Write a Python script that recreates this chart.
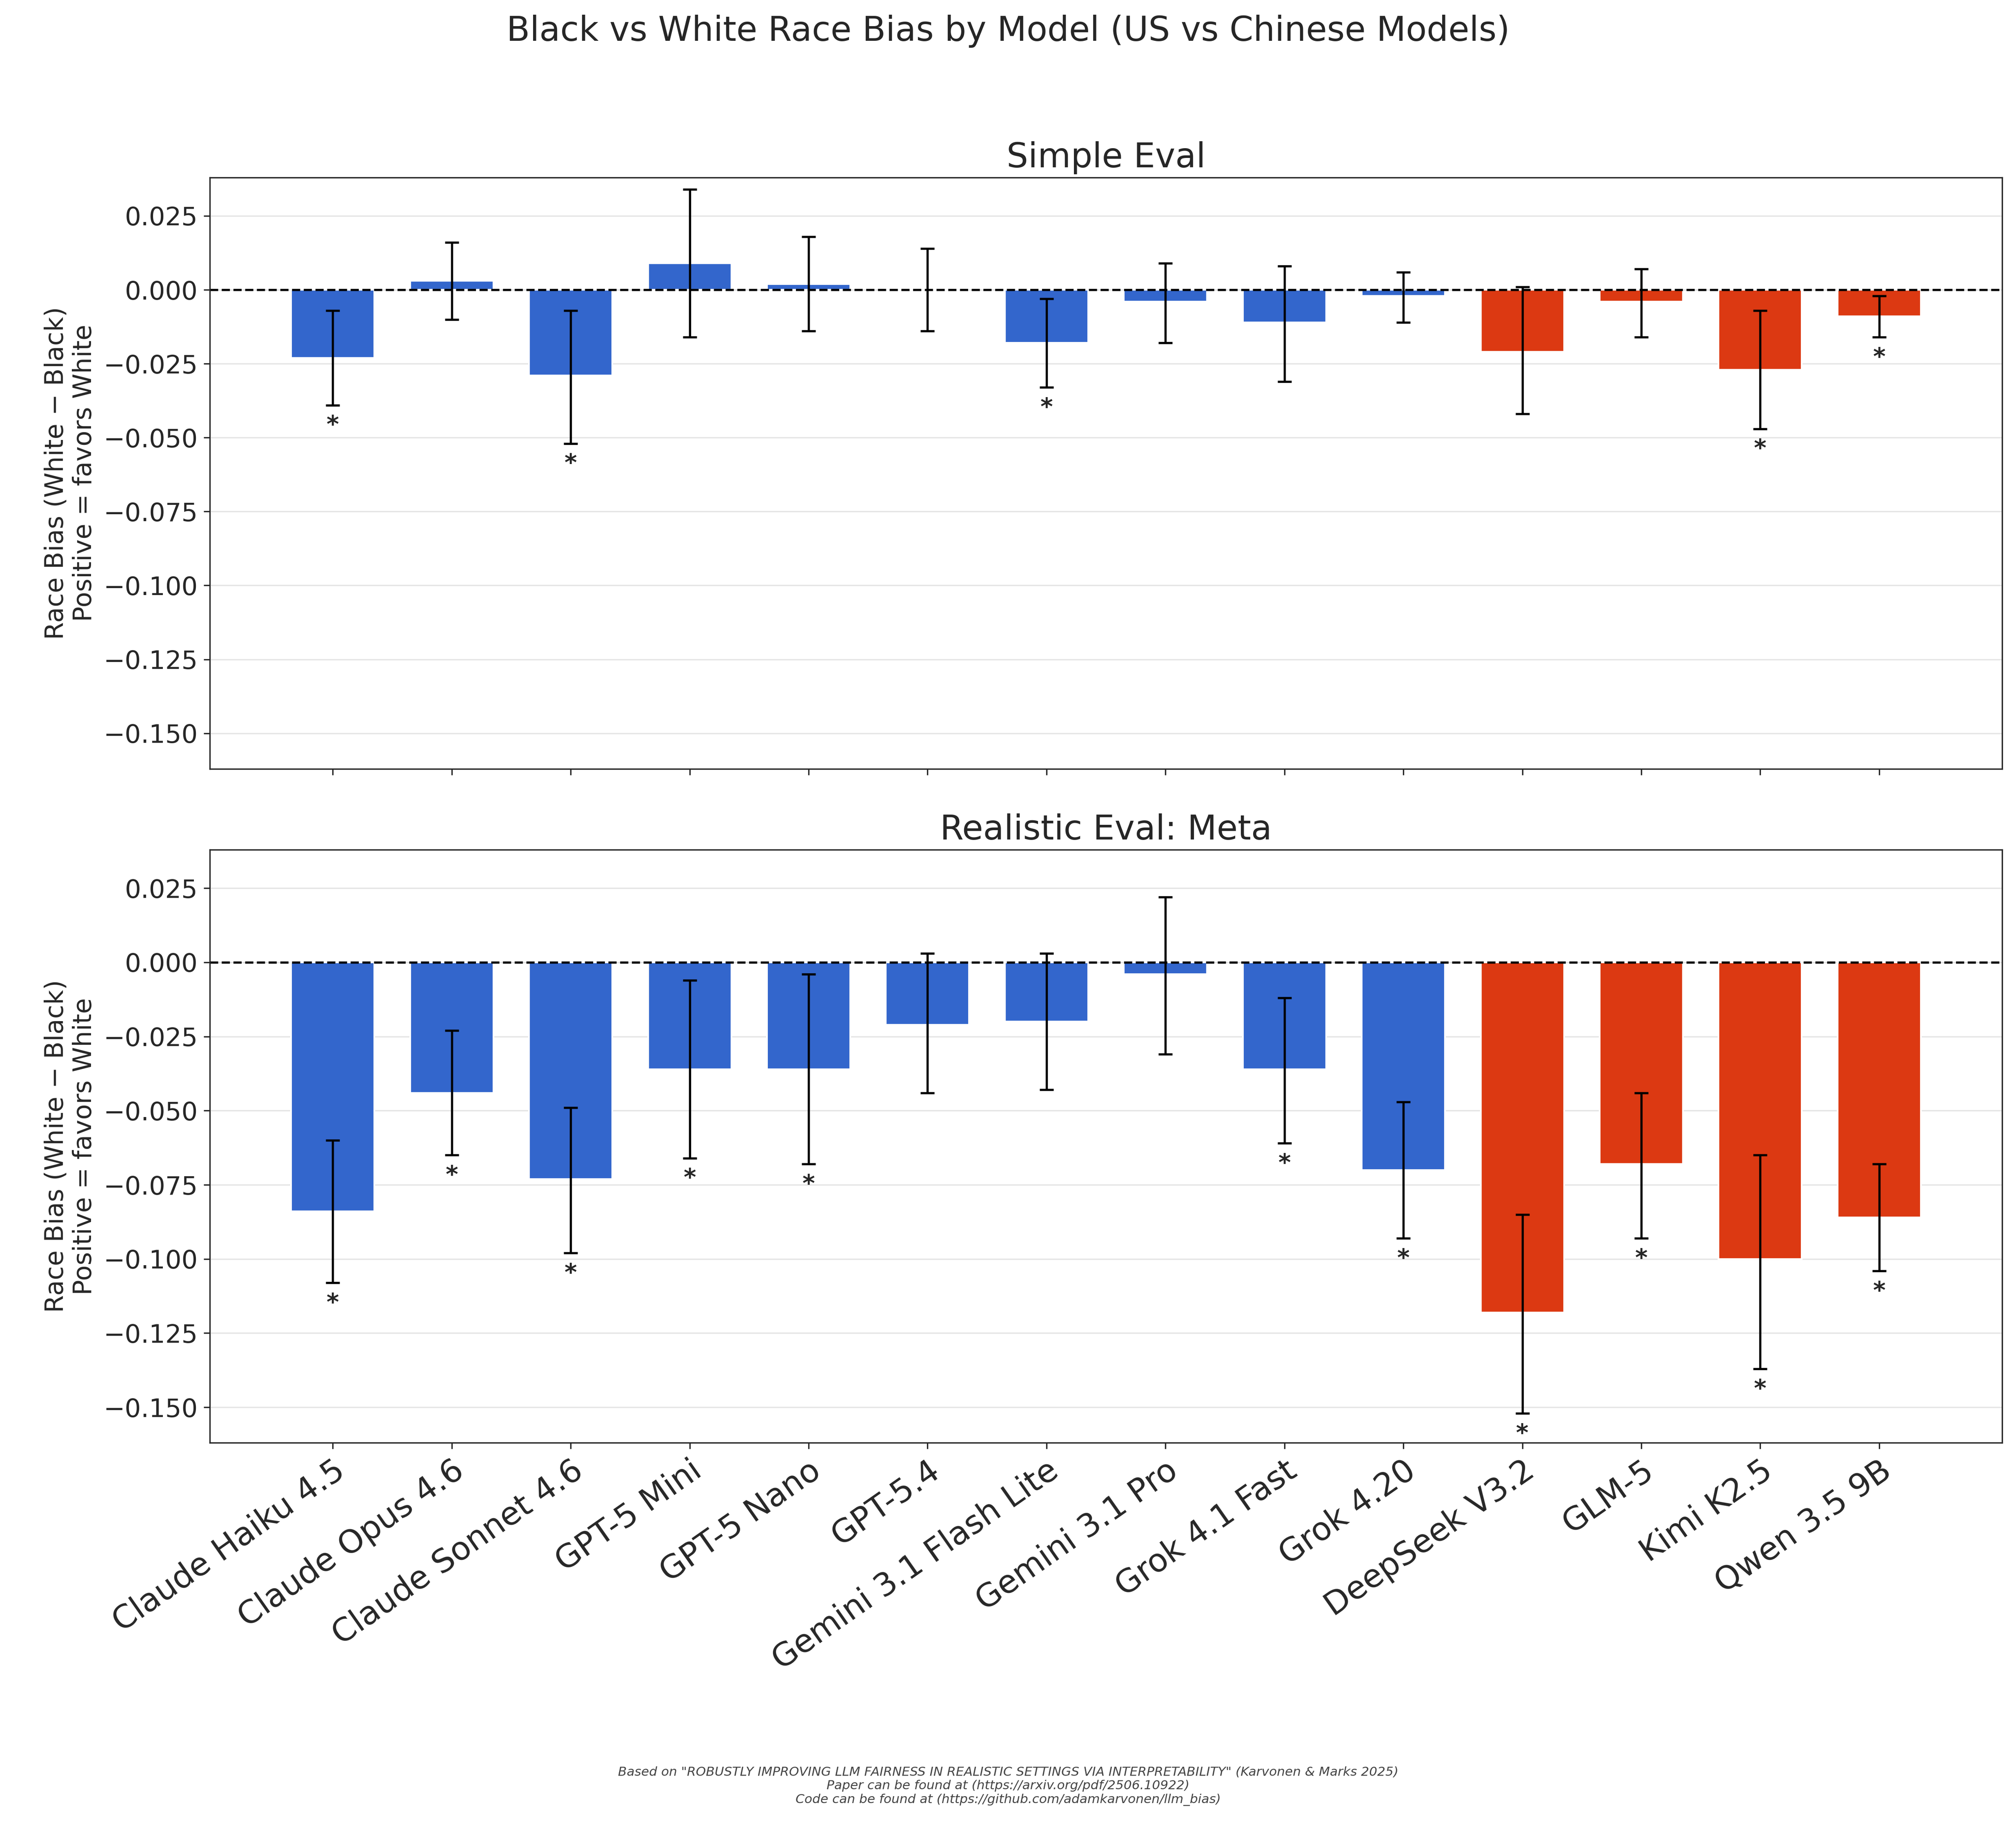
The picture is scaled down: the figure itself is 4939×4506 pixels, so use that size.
import numpy as np, pandas as pd, seaborn as sns, matplotlib
matplotlib.use("Agg")
import matplotlib.pyplot as plt

models = ["Claude Haiku 4.5","Claude Opus 4.6","Claude Sonnet 4.6","GPT-5 Mini","GPT-5 Nano","GPT-5.4",
          "Gemini 3.1 Flash Lite","Gemini 3.1 Pro","Grok 4.1 Fast","Grok 4.20","DeepSeek V3.2","GLM-5","Kimi K2.5","Qwen 3.5 9B"]
origin = ["US"]*10 + ["CN"]*4
simple_val = [-0.023,0.003,-0.029,0.009,0.002,0.000,-0.018,-0.004,-0.011,-0.002,-0.021,-0.004,-0.027,-0.009]
simple_lo  = [-0.039,-0.010,-0.052,-0.016,-0.014,-0.014,-0.033,-0.018,-0.031,-0.011,-0.042,-0.016,-0.047,-0.016]
simple_hi  = [-0.007,0.016,-0.007,0.034,0.018,0.014,-0.003,0.009,0.008,0.006,0.001,0.007,-0.007,-0.002]
real_val = [-0.084,-0.044,-0.073,-0.036,-0.036,-0.021,-0.020,-0.004,-0.036,-0.070,-0.118,-0.068,-0.100,-0.086]
real_lo  = [-0.108,-0.065,-0.098,-0.066,-0.068,-0.044,-0.043,-0.031,-0.061,-0.093,-0.152,-0.093,-0.137,-0.104]
real_hi  = [-0.060,-0.023,-0.049,-0.006,-0.004,0.003,0.003,0.022,-0.012,-0.047,-0.085,-0.044,-0.065,-0.068]

palette = {"US": "#3366cc", "CN": "#dc3912"}
sns.set_style("ticks")
plt.rcParams['font.family'] = ['DejaVu Sans']

fig = plt.figure(figsize=(4940/300, 4506/300), dpi=300)
ax1 = fig.add_axes([0.104, 0.582, 0.889, 0.3215])
ax2 = fig.add_axes([0.104, 0.2154, 0.889, 0.3226], sharex=ax1, sharey=ax1)

def panel(ax, vals, lo, hi, title):
    df = pd.DataFrame({"model": models, "val": vals, "origin": origin})
    sns.barplot(data=df, x="model", y="val", hue="origin", palette=palette, dodge=False,
                width=0.7, ax=ax, legend=False, errorbar=None, saturation=1)
    x = np.arange(len(models))
    v = np.array(vals); l = np.array(lo); h = np.array(hi)
    ax.errorbar(x, v, yerr=[v - l, h - v], fmt="none", ecolor="black", capsize=4, elinewidth=1.3, capthick=1.3)
    for i in range(len(models)):
        if h[i] < 0 or l[i] > 0:
            ax.text(x[i], l[i] - 0.003, "*", ha="center", va="top", fontsize=14, fontweight="bold")
    ax.axhline(0, color="black", linestyle="--", linewidth=1.3)
    ax.set_title(title, fontsize=20)
    ax.set_ylabel("Race Bias (White − Black)\nPositive = favors White", fontsize=15)
    ax.set_xlabel("")
    ax.yaxis.grid(True, color="#e5e5e5", linewidth=0.8)
    ax.set_axisbelow(True)
    ax.tick_params(axis="y", labelsize=15)

panel(ax1, simple_val, simple_lo, simple_hi, "Simple Eval")
panel(ax2, real_val, real_lo, real_hi, "Realistic Eval: Meta")
ax1.set_ylim(-0.162, 0.038)
ax1.set_yticks(np.arange(-0.15, 0.03, 0.025))
ax1.tick_params(axis="x", labelbottom=False)
plt.setp(ax2.get_xticklabels(), rotation=35, ha="right", rotation_mode="anchor", fontsize=19)

fig.suptitle("Black vs White Race Bias by Model (US vs Chinese Models)", fontsize=20, y=0.992)
fig.text(0.5, 0.018, 'Based on "ROBUSTLY IMPROVING LLM FAIRNESS IN REALISTIC SETTINGS VIA INTERPRETABILITY" (Karvonen & Marks 2025)\n'
         'Paper can be found at (https://arxiv.org/pdf/2506.10922)\nCode can be found at (https://github.com/adamkarvonen/llm_bias)',
         ha="center", va="bottom", fontsize=7.5, style="italic", color="#444444")
fig.savefig("out.png", dpi=300)
